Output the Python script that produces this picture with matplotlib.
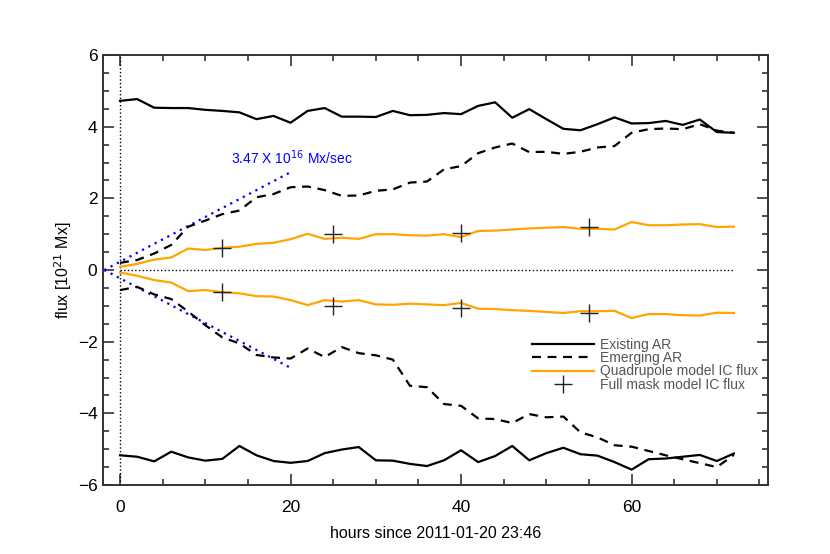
import matplotlib
matplotlib.use("Agg")
import matplotlib.pyplot as plt
from matplotlib.ticker import MultipleLocator

plt.rcParams['font.family'] = ['Liberation Sans', 'DejaVu Sans']

# hours since 2011-01-20 23:46, 2 h cadence
hours = list(range(0, 74, 2))

# flux in 1e21 Mx
existing_pos = [4.72, 4.77, 4.53, 4.52, 4.52, 4.47, 4.44, 4.40, 4.21, 4.30,
                4.11, 4.44, 4.52, 4.28, 4.28, 4.27, 4.44, 4.32, 4.33, 4.38,
                4.35, 4.58, 4.68, 4.25, 4.49, 4.21, 3.94, 3.90, 4.07, 4.26,
                4.09, 4.10, 4.16, 4.05, 4.20, 3.85, 3.83]
existing_neg = [-5.17, -5.21, -5.34, -5.07, -5.23, -5.32, -5.27, -4.91, -5.17, -5.33,
                -5.38, -5.33, -5.11, -5.01, -4.94, -5.31, -5.32, -5.41, -5.47, -5.31,
                -5.03, -5.36, -5.19, -4.91, -5.31, -5.11, -4.96, -5.14, -5.18, -5.36,
                -5.57, -5.28, -5.26, -5.21, -5.16, -5.33, -5.12]
emerging_pos = [0.20, 0.28, 0.46, 0.70, 1.21, 1.38, 1.56, 1.66, 2.03, 2.12,
                2.31, 2.33, 2.23, 2.07, 2.08, 2.21, 2.25, 2.44, 2.47, 2.81,
                2.90, 3.26, 3.42, 3.53, 3.29, 3.30, 3.24, 3.30, 3.42, 3.46,
                3.83, 3.93, 3.95, 3.93, 4.07, 3.89, 3.83]
emerging_neg = [-0.56, -0.47, -0.68, -0.81, -1.16, -1.54, -1.88, -2.05, -2.37, -2.44,
                -2.47, -2.19, -2.43, -2.15, -2.32, -2.38, -2.50, -3.23, -3.27, -3.74,
                -3.79, -4.14, -4.16, -4.27, -4.02, -4.11, -4.09, -4.53, -4.67, -4.89,
                -4.93, -5.05, -5.17, -5.28, -5.39, -5.50, -5.16]
quad_pos = [0.09, 0.17, 0.29, 0.35, 0.60, 0.56, 0.62, 0.65, 0.73, 0.76,
            0.86, 1.01, 0.87, 0.90, 0.87, 1.00, 1.00, 0.97, 0.96, 1.00,
            0.92, 1.09, 1.10, 1.13, 1.16, 1.18, 1.20, 1.15, 1.15, 1.13,
            1.34, 1.25, 1.25, 1.27, 1.28, 1.20, 1.21]
quad_neg = [-0.07, -0.16, -0.28, -0.35, -0.59, -0.56, -0.62, -0.65, -0.73, -0.74,
            -0.84, -0.98, -0.84, -0.88, -0.84, -0.96, -0.97, -0.94, -0.96, -0.98,
            -0.92, -1.08, -1.09, -1.12, -1.14, -1.17, -1.20, -1.15, -1.15, -1.14,
            -1.34, -1.23, -1.23, -1.26, -1.27, -1.19, -1.20]

# full mask model IC flux
mask_hours = [12, 25, 40, 55]
mask_pos = [0.62, 1.01, 1.03, 1.19]
mask_neg = [-0.60, -1.01, -1.05, -1.20]

# emergence rate fit: 3.47e16 Mx/s
rate = 3.47e16 * 3600 / 1e21
fit_hours = [-1.85, 20]

fig = plt.figure(figsize=(8.3, 5.54), dpi=100)
ax = fig.add_axes([0.1241, 0.1245, 0.8012, 0.7762])

ax.axvline(0, color='black', ls=':', lw=1)
ax.plot([0, 72], [0, 0], color='black', ls=':', lw=1)

fit_up = [rate * (t - fit_hours[0]) for t in fit_hours]
fit_dn = [-v for v in fit_up]
ax.plot(fit_hours, fit_up, color='blue', ls=(0, (1, 2.2)), lw=1.6)
ax.plot(fit_hours, fit_dn, color='blue', ls=(0, (1, 2.2)), lw=1.6)
ax.text(13.0, 3.13, r'3.47 X 10$^{16}$ Mx/sec', color='blue', fontsize=10,
        va='center', ha='left')

l1, = ax.plot(hours, existing_pos, color='black', lw=1.6)
ax.plot(hours, existing_neg, color='black', lw=1.6)
l2, = ax.plot(hours, emerging_pos, color='black', lw=1.6, ls=(0, (4, 3)))
ax.plot(hours, emerging_neg, color='black', lw=1.6, ls=(0, (4, 3)))
l3, = ax.plot(hours, quad_pos, color='#FFA500', lw=1.6)
ax.plot(hours, quad_neg, color='#FFA500', lw=1.6)
l4, = ax.plot(mask_hours, mask_pos, ls='none', marker='+', ms=13, mew=1,
              color='#222222')
ax.plot(mask_hours, mask_neg, ls='none', marker='+', ms=13, mew=1,
        color='#222222')

ax.set_xlim(-2, 76)
ax.set_ylim(-6, 6)
ax.xaxis.set_major_locator(MultipleLocator(20))
ax.xaxis.set_minor_locator(MultipleLocator(5))
ax.yaxis.set_major_locator(MultipleLocator(2))
ax.yaxis.set_minor_locator(MultipleLocator(0.5))
ax.tick_params(which='both', direction='in', top=True, right=True,
               labelsize=12.5, width=1.2, color='#333333')
ax.tick_params(which='major', length=8)
ax.tick_params(which='minor', length=4.5)
ax.tick_params(axis='x', pad=11)
ax.tick_params(axis='y', pad=4)
for s in ax.spines.values():
    s.set_linewidth(1.4)
    s.set_color('#333333')

ax.set_xlabel('hours since 2011-01-20 23:46', fontsize=11.5, labelpad=8)
ax.set_ylabel(r'flux [10$^{21}$ Mx]', fontsize=11.5, labelpad=3)

leg = ax.legend([l1, l2, l3, l4],
                ['Existing AR', 'Emerging AR', 'Quadrupole model IC flux',
                 'Full mask model IC flux'],
                loc='upper left', bbox_to_anchor=(0.63, 0.365), frameon=False,
                fontsize=10, handlelength=4.5, labelspacing=-0.05,
                handletextpad=0.45, borderpad=0.2)
for t in leg.get_texts():
    t.set_color('#555555')

fig.savefig('out.png', dpi=100)
